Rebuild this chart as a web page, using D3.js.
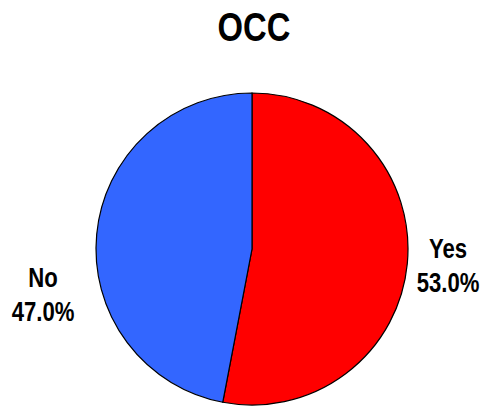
<!DOCTYPE html>
<html><head><meta charset="utf-8">
<script src="https://cdn.jsdelivr.net/npm/d3@7"></script>
<style>body{margin:0;background:#fff}svg{display:block}</style>
</head><body><svg id="c" width="482" height="407"></svg>
<script>
const title = "OCC";
const categories = ["Yes", "No"];
const values = [53.0, 47.0];
const colors = ["#FF0000", "#3366FF"];

const svg = d3.select("#c");
const cx = 252, cy = 249, r = 156;
const font = "'Liberation Sans','Arial',sans-serif";
const narrow = 0.82;

svg.append("g").attr("transform", `translate(254,41) scale(${narrow},1)`)
  .append("text").attr("text-anchor", "middle")
  .style("font-family", font).style("font-weight", "bold").style("font-size", "40px")
  .text(title);

const pie = d3.pie().sort(null).value(d => d)(values);
const arc = d3.arc().innerRadius(0).outerRadius(r);
const g = svg.append("g").attr("transform", `translate(${cx},${cy})`);
g.selectAll("path").data(pie).join("path")
  .attr("d", arc).attr("fill", (d, i) => colors[i])
  .attr("stroke", "#000").attr("stroke-width", 1.2);

// label anchors (offsets relative to pie center)
const labelPos = [[196, 9], [-209, 38]];
pie.forEach((d, i) => {
  const t = g.append("text").attr("text-anchor", "middle")
    .style("font-family", font).style("font-weight", "bold").style("font-size", "27px")
    .attr("transform", `translate(${labelPos[i][0]},${labelPos[i][1]}) scale(${narrow},1)`);
  t.append("tspan").attr("x", 0).attr("y", 0).text(categories[i]);
  t.append("tspan").attr("x", 0).attr("y", 34).text(values[i].toFixed(1) + "%");
});
</script></body></html>
